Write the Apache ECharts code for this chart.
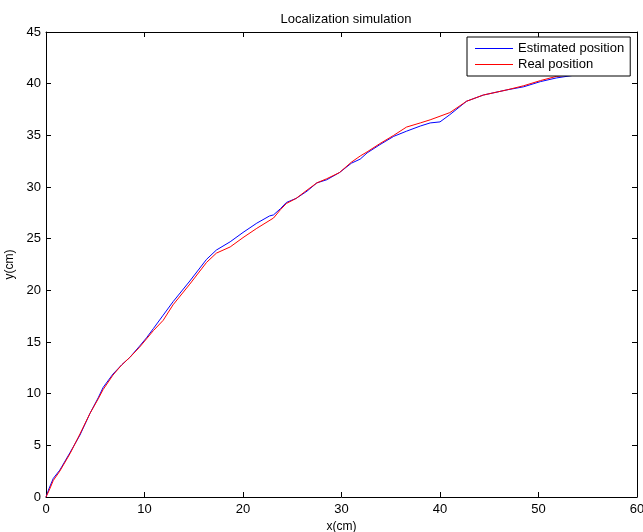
<!DOCTYPE html>
<html>
<head>
<meta charset="utf-8">
<script src="https://cdn.jsdelivr.net/npm/echarts@6/dist/echarts.min.js"></script>
<style>html,body{margin:0;padding:0;background:#fff;}#c{width:643px;height:532px;}</style>
</head>
<body>
<div id="c"></div>
<script>
const titleText = "Localization simulation";
const xName = "x(cm)";
const yName = "y(cm)";
const seriesNames = ["Estimated position", "Real position"];
const seriesColors = ["#0000ff", "#ff0000"];
const xTicks = [0, 10, 20, 30, 40, 50, 60];
const yTicks = [0, 5, 10, 15, 20, 25, 30, 35, 40, 45];

const estimatedX = [0,0.3,0.74,1.4,2.44,3.45,4.47,5.3,5.8,6.8,7.7,8.5,9.5,10.2,10.9,11.9,12.9,14.6,16.3,17.3,18.7,20.0,21.4,22.7,23.1,23.8,24.4,25.4,26.5,27.5,28.5,29.8,31.0,31.9,32.6,33.9,35.3,36.6,38.0,39.0,40.0,41.0,42.7,44.4,46.8,48.5,50.2,51.8,53.5,55];
const estimatedY = [0,0.8,1.8,2.6,4.3,6.0,8.1,9.6,10.6,11.9,12.8,13.5,14.6,15.4,16.3,17.6,18.9,20.9,23.0,23.9,24.7,25.6,26.5,27.2,27.3,27.9,28.5,28.9,29.6,30.4,30.7,31.4,32.3,32.7,33.3,34.1,34.9,35.4,35.9,36.2,36.3,37.0,38.3,38.9,39.4,39.7,40.2,40.55,40.8,41.0];

const realX = [0,0.3,0.74,1.4,2.44,3.45,4.47,5.3,5.8,6.8,7.7,8.5,9.5,10.2,10.9,11.9,12.9,14.6,16.3,17.3,18.7,20.0,21.4,23.1,23.8,24.4,25.4,26.5,27.5,28.5,29.8,31.0,31.9,32.6,33.9,35.3,36.6,38.0,39.0,41.0,42.7,44.4,46.8,48.5,50.2,51.8,53.5,55];
const realY = [0,0.6,1.6,2.5,4.2,6.1,8.1,9.5,10.4,11.8,12.8,13.5,14.5,15.3,16.1,17.1,18.6,20.6,22.7,23.6,24.2,25.1,26.0,27.0,27.8,28.4,28.9,29.7,30.4,30.8,31.4,32.4,33.0,33.4,34.2,35.0,35.8,36.2,36.5,37.2,38.3,38.9,39.4,39.8,40.3,40.7,40.9,41.1];

const zip = (xs, ys) => xs.map((x, i) => [x, ys[i]]);
const font = "Liberation Sans, Arial, Helvetica, sans-serif";

const chart = echarts.init(document.getElementById('c'), null, {renderer: 'canvas'});
const axisCommon = {
  axisLine: {show: true, onZero: false, lineStyle: {color: '#000', width: 1}},
  axisTick: {show: true, inside: true, length: 5, lineStyle: {color: '#000'}},
  splitLine: {show: false}
};
chart.setOption({
  animation: false,
  backgroundColor: '#fff',
  title: {
    text: titleText, left: 341, top: 8, textAlign: 'center',
    textStyle: {fontFamily: font, fontSize: 13, fontWeight: 'normal', color: '#000'}
  },
  grid: {left: 46, right: 6, top: 32, bottom: 35, containLabel: false, outerBoundsMode: 'none'},
  legend: {
    orient: 'vertical', left: 467, top: 37, z: 20,
    backgroundColor: '#fff', borderColor: '#000', borderWidth: 1, borderRadius: 0,
    padding: [4, 6, 4, 8], itemGap: 1,
    itemWidth: 38, itemHeight: 1.2,
    data: seriesNames.map((n, i) => ({name: n, icon: 'rect', itemStyle: {color: seriesColors[i], borderWidth: 0}})),
    textStyle: {fontFamily: font, fontSize: 13, lineHeight: 15, color: '#000', padding: [0, 0, 0, 0]}
  },
  xAxis: [
    Object.assign({type: 'value', min: xTicks[0], max: xTicks[xTicks.length-1], interval: 10, position: 'bottom',
      name: xName, nameLocation: 'middle', nameGap: 18,
      nameTextStyle: {fontFamily: font, fontSize: 12, color: '#000'},
      axisLabel: {fontFamily: font, fontSize: 13, color: '#000', margin: 6}}, axisCommon),
    Object.assign({type: 'value', min: xTicks[0], max: xTicks[xTicks.length-1], interval: 10, position: 'top',
      axisLabel: {show: false}}, axisCommon)
  ],
  yAxis: [
    Object.assign({type: 'value', min: yTicks[0], max: yTicks[yTicks.length-1], interval: 5, position: 'left',
      name: yName, nameLocation: 'middle', nameGap: 17,
      nameTextStyle: {fontFamily: font, fontSize: 12, color: '#000'},
      axisLabel: {fontFamily: font, fontSize: 13, color: '#000', margin: 5}}, axisCommon),
    Object.assign({type: 'value', min: yTicks[0], max: yTicks[yTicks.length-1], interval: 5, position: 'right',
      axisLabel: {show: false}}, axisCommon)
  ],
  series: [
    {name: seriesNames[0], type: 'line', data: zip(estimatedX, estimatedY), symbol: 'none', z: 2,
      lineStyle: {color: seriesColors[0], width: 1}, itemStyle: {color: seriesColors[0]}},
    {name: seriesNames[1], type: 'line', data: zip(realX, realY), symbol: 'none', z: 2,
      lineStyle: {color: seriesColors[1], width: 1}, itemStyle: {color: seriesColors[1]}}
  ]
});
</script>
</body>
</html>
